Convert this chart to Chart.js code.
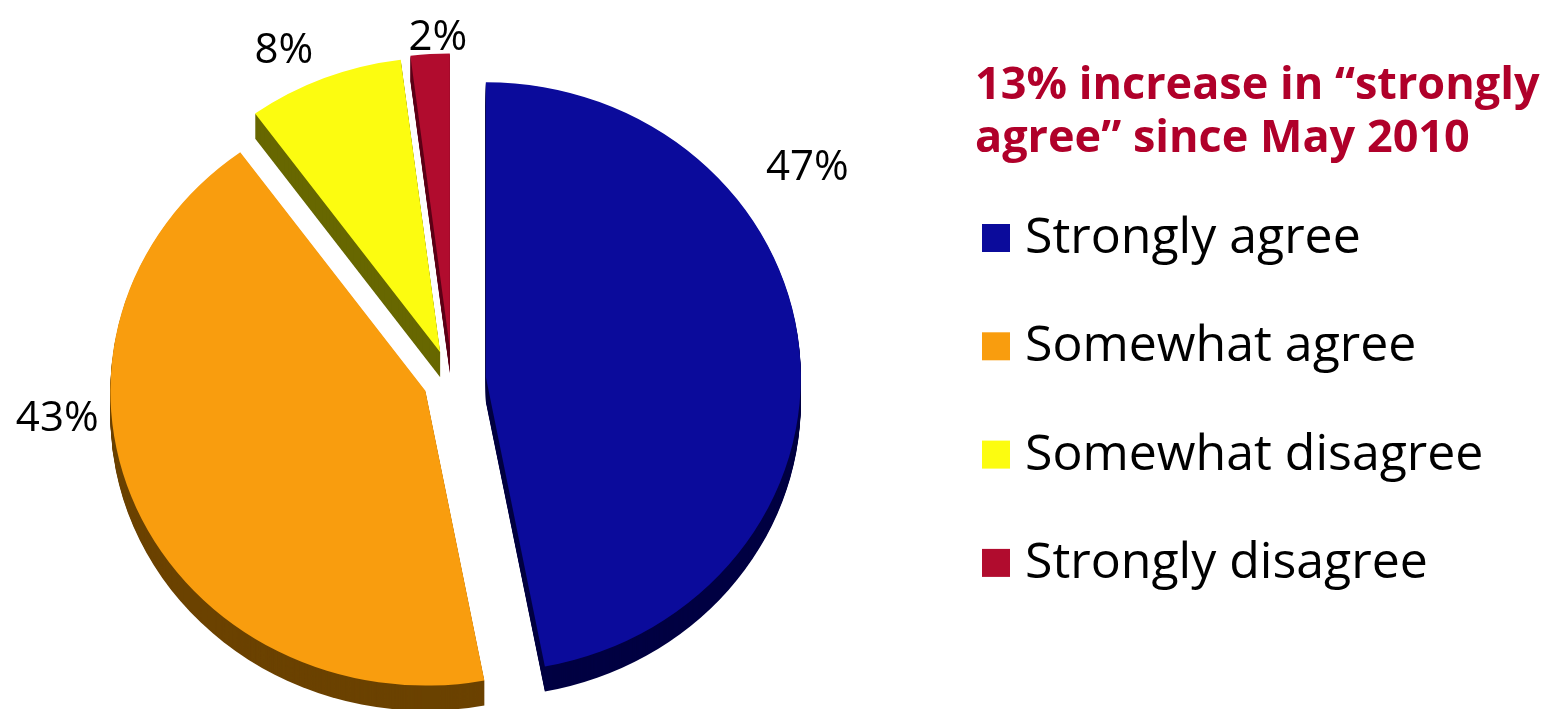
<!DOCTYPE html>
<html>
<head>
<meta charset="utf-8">
<script src="https://cdn.jsdelivr.net/npm/chart.js@4"></script>
<style>
  html, body { margin: 0; padding: 0; background: #fff; overflow: hidden; }
  canvas { display: block; }
</style>
</head>
<body>
<canvas id="graficoPastel" width="1554" height="709"></canvas>
<script>
const etiquetas = ['Strongly agree', 'Somewhat agree', 'Somewhat disagree', 'Strongly disagree'];
const porcentajes = [47, 43, 8, 2];
const colores = ['#0b0b9b', '#f99d0e', '#fcfc10', '#b10c2e'];
const coloresLado = ['#000042', '#6b4200', '#676700', '#5e0018'];
const tituloLineas = ['13% increase in \u201cstrongly', 'agree\u201d since May 2010'];

// separación de cada porción (px)
const separacion = [34, 29, 32, 34];
// ajuste de las etiquetas: giro en grados y distancia extra fuera del borde
const giroEtiqueta = [-28, 19.5, -5.6, 1.4];
const distEtiqueta = [70, 54, 27, -2];

const ACHATADO = 0.936;   // inclinación del pastel
const PROFUNDIDAD = 25;   // grosor del costado
const FUENTE = '"Open Sans", "DejaVu Sans", sans-serif';

function centroY(chart) {
    return (chart.chartArea.top + chart.chartArea.bottom) / 2;
}

const pastel3D = {
    id: 'pastel3D',
    afterDatasetsUpdate(chart) {
        // separar cada porción del centro
        chart.getDatasetMeta(0).data.forEach((arco, i) => {
            const medio = (arco.startAngle + arco.endAngle) / 2;
            arco.x += Math.cos(medio) * separacion[i];
            arco.y += Math.sin(medio) * separacion[i];
        });
    },
    beforeDatasetsDraw(chart) {
        const ctx = chart.ctx;
        const meta = chart.getDatasetMeta(0);
        const cy = centroY(chart);
        ctx.save();
        ctx.translate(0, cy);
        ctx.scale(1, ACHATADO);
        ctx.translate(0, -cy);
        // costado oscuro
        for (let d = PROFUNDIDAD; d >= 1; d--) {
            meta.data.forEach((arco, i) => {
                const y = arco.y + d / ACHATADO;
                ctx.beginPath();
                ctx.moveTo(arco.x, y);
                ctx.arc(arco.x, y, arco.outerRadius, arco.startAngle, arco.endAngle);
                ctx.closePath();
                ctx.fillStyle = coloresLado[i];
                ctx.fill();
            });
        }
    },
    afterDatasetsDraw(chart) {
        chart.ctx.restore();
    },
    afterDraw(chart) {
        const ctx = chart.ctx;
        const meta = chart.getDatasetMeta(0);
        const cy = centroY(chart);
        ctx.save();

        // porcentajes
        ctx.fillStyle = '#000';
        ctx.font = `42px ${FUENTE}`;
        ctx.textAlign = 'center';
        ctx.textBaseline = 'alphabetic';
        meta.data.forEach((arco, i) => {
            const x0 = arco.x;
            const y0 = cy + (arco.y - cy) * ACHATADO;
            const ang = (arco.startAngle + arco.endAngle) / 2 + giroEtiqueta[i] * Math.PI / 180;
            const r = arco.outerRadius + distEtiqueta[i];
            ctx.fillText(porcentajes[i] + '%', x0 + Math.cos(ang) * r, y0 + Math.sin(ang) * r + 15);
        });

        // titulo
        ctx.textAlign = 'left';
        ctx.fillStyle = '#b0002a';
        ctx.font = `bold 45px ${FUENTE}`;
        tituloLineas.forEach((linea, i) => ctx.fillText(linea, 975, 99 + i * 53));

        // leyenda
        ctx.font = `50px ${FUENTE}`;
        etiquetas.forEach((et, i) => {
            const base = 253 + i * 108.3;
            ctx.fillStyle = colores[i];
            ctx.fillRect(982, base - 29, 28, 28);
            ctx.fillStyle = '#000';
            ctx.fillText(et, 1025, base);
        });
        ctx.restore();
    }
};

function crearGrafico() {
    const ctx = document.getElementById('graficoPastel').getContext('2d');
    new Chart(ctx, {
        type: 'pie',
        data: {
            labels: etiquetas,
            datasets: [{
                data: porcentajes,
                backgroundColor: colores,
                borderWidth: 0,
                clip: false
            }]
        },
        options: {
            responsive: false,
            animation: false,
            devicePixelRatio: 1,
            events: [],
            layout: { padding: { left: 137, right: 787, top: 65, bottom: 14 } },
            plugins: {
                legend: { display: false },
                tooltip: { enabled: false }
            }
        },
        plugins: [pastel3D]
    });
}

Promise.all([
    document.fonts.load('42px "Open Sans"'),
    document.fonts.load('bold 45px "Open Sans"')
]).then(crearGrafico, crearGrafico);
</script>
</body>
</html>
